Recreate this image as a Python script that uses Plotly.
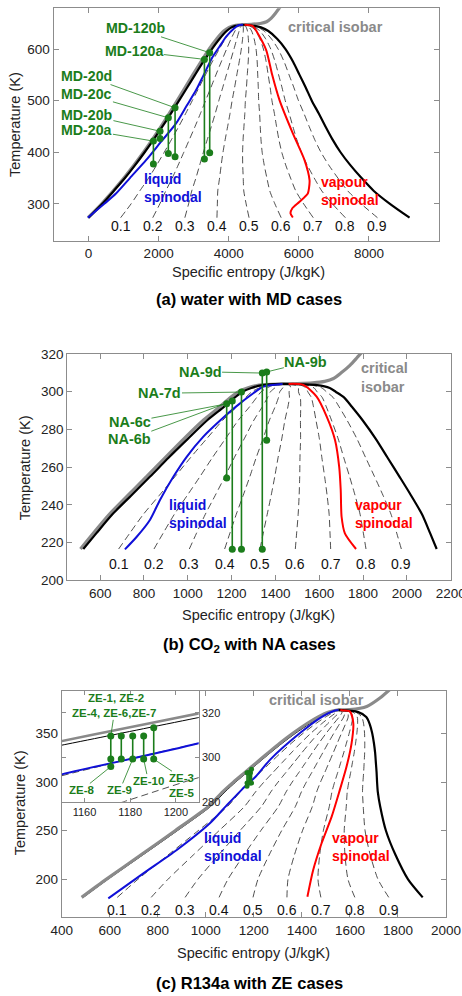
import plotly.graph_objects as go

# ---------------- data: water (panel a) ----------------
w_T  = [273.16, 300, 325, 350, 375, 400, 425, 450, 475, 500, 525, 550, 575, 600, 620, 635, 642, 645, 647.1]
w_sl = [0, 393, 719, 1038, 1328, 1601, 1860, 2109, 2348, 2581, 2810, 3038, 3271, 3519, 3740, 3940, 4080, 4190, 4407]
w_sv = [9160, 8600, 8140, 7790, 7470, 7190, 6960, 6760, 6570, 6370, 6200, 6020, 5840, 5620, 5380, 5130, 4920, 4740, 4407]
w_iso_T = [273.16, 300, 350, 400, 450, 500, 550, 600, 620, 635, 642, 646, 647.1, 648, 649.5, 653, 660, 670, 682]
w_iso_s = [-15, 375, 1010, 1570, 2070, 2530, 2975, 3440, 3660, 3860, 4010, 4200, 4407, 4650, 4900, 5080, 5215, 5340, 5470]
w_liq_T = [273.16, 300, 320, 350, 384.7, 420, 455.9, 490, 520.5, 550, 585, 610, 623.9, 640, 646.6, 647.1]
w_liq_s = [-20, 449, 783, 1180, 1640, 2064, 2497, 2799, 3069, 3286, 3543, 3788, 3926, 4150, 4300, 4407]
w_vap_T = [647.1, 644.6, 630, 598, 550, 501, 436.5, 384.8, 346, 330, 320, 303.9, 291, 281.4, 273.6]
w_vap_s = [4450, 4686, 4830, 5069, 5240, 5449, 5829, 6163, 6306, 6290, 6257, 6020, 5811, 5763, 5829]
md_names = ['MD-20a', 'MD-20b', 'MD-20c', 'MD-20d', 'MD-120a', 'MD-120b']
md_s     = [1851, 2040, 2277, 2469, 3306, 3457]
md_T_top = [421.6, 440.8, 466.8, 486.2, 580.0, 592.9]
md_T_bot = [377.0, 426.8, 397.7, 391.2, 386.7, 398.9]

# ---------------- data: CO2 (panel b) ----------------
c_T  = [216.6, 225, 235, 245, 255, 265, 275, 285, 292, 297, 300, 302, 303.5, 304.13]
c_sl = [523, 583, 656, 742, 828, 912, 1000, 1090, 1165, 1215, 1250, 1290, 1340, 1432]
c_sv = [2136, 2106, 2069, 2019, 1966, 1912, 1858, 1797, 1749, 1713, 1675, 1648, 1590, 1432]
c_iso_T = [216.6, 235, 255, 275, 285, 292, 297, 300, 302, 303.5, 304.13, 304.3, 304.7, 305.5, 307, 310, 314, 318, 321]
c_iso_s = [510, 642, 812, 982, 1072, 1146, 1196, 1232, 1272, 1325, 1432, 1500, 1570, 1625, 1665, 1700, 1740, 1772, 1795]
c_liq_T = [216.4, 223.1, 232, 242.6, 254.9, 265.5, 276.2, 285, 292.1, 299.2, 302.7, 304.13]
c_liq_s = [713, 767, 827, 873, 934, 995, 1071, 1150, 1220, 1299, 1345, 1432]
c_vap_T = [304.13, 303.6, 297.4, 286.8, 274.4, 260.2, 247.9, 233.7, 224.9, 216.6]
c_vap_s = [1460, 1527, 1588, 1634, 1672, 1691, 1698, 1702, 1717, 1768]
na_names = ['NA-6c', 'NA-6b', 'NA-7d', 'NA-9d', 'NA-9b']
na_s     = [1177.5, 1203, 1245, 1340, 1360]
na_T_top = [293.6, 295.1, 299.8, 309.9, 310.5]
na_T_bot = [254.3, 216.4, 216.4, 216.4, 274.2]

# ---------------- data: R134a (panel c) ----------------
r_T  = [181.5, 200, 225, 250, 275, 290, 300, 310, 320, 330, 340, 350, 360, 367, 372, 374.2]
r_sl = [490, 592, 737, 881, 1020, 1080, 1124, 1172, 1220, 1268, 1318, 1372, 1432, 1480, 1522, 1552]
r_sv = [1903, 1842, 1790, 1750, 1726, 1716, 1713, 1711, 1708, 1705, 1700, 1693, 1682, 1668, 1635, 1552]
r_iso_T = [181.5, 200, 225, 250, 275, 290, 300, 310, 320, 330, 340, 350, 360, 367, 372, 374.2, 374.5, 377.8, 386.5, 396]
r_iso_s = [483, 585, 729, 872, 1011, 1070, 1115, 1163, 1211, 1259, 1308, 1361, 1420, 1468, 1512, 1552, 1600, 1670, 1725, 1770]
r_liq_T = [180.4, 206.2, 230.2, 257.7, 275, 292.3, 306.3, 322.9, 350.4, 365.9, 373.7, 374.2]
r_liq_s = [594, 740, 879, 1017, 1083, 1150, 1210, 1267, 1392, 1475, 1538, 1552]
r_vap_T = [374.2, 373.7, 372.7, 360.7, 340.1, 316, 292, 264.5, 237.1, 209.6, 182.1]
r_vap_s = [1560, 1572, 1600, 1614, 1607, 1586, 1558, 1524, 1482, 1447, 1423]
ze_s    = [1171.5, 1176.1, 1181.1, 1185.9, 1190.3]
ze_T    = [[309.6, 299.2, 295.8], [309.6, 299.2], [309.6, 299.2], [309.6, 299.2], [313.3, 299.2]]

qualities = [0.1, 0.2, 0.3, 0.4, 0.5, 0.6, 0.7, 0.8, 0.9]
quality_text = ['0.1', '0.2', '0.3', '0.4', '0.5', '0.6', '0.7', '0.8', '0.9']

# ---------------- styles ----------------
FONT = "Arial, 'Liberation Sans', sans-serif"
GREEN = '#1b7d1b'
BLUE = '#1010d8'
RED = '#ff0000'
GRAY = '#8a8a8a'
FRAME = '#8c8c8c'
TXT = '#222222'
SMOOTH = 0.7

fig = go.Figure()


def quality_lines(T, sl, sv):
    xs, ys = [], []
    for q in qualities:
        for t, a, b in zip(T, sl, sv):
            xs.append(a + q * (b - a))
            ys.append(t)
        xs.append(None)
        ys.append(None)
    return xs, ys


def curve(xa, ya, x, y, color, width, dash=None):
    fig.add_trace(go.Scatter(x=x, y=y, mode='lines', xaxis=xa, yaxis=ya,
                             line=dict(color=color, width=width, dash=dash, shape='spline', smoothing=SMOOTH),
                             hoverinfo='skip', showlegend=False))


def add_panel(xa, ya, T, sl, sv, iso_s, iso_T, liq_s, liq_T, vap_s, vap_T,
              sl_width=2.2, iso_width=3.2, spin_width=2.0, sl_under=False):
    qx, qy = quality_lines(T, sl, sv)
    curve(xa, ya, qx, qy, '#222222', 0.8, dash='7px,4px')
    if sl_under:
        curve(xa, ya, sl, T, 'black', sl_width)
    curve(xa, ya, iso_s, iso_T, GRAY, iso_width)
    if not sl_under:
        curve(xa, ya, sl, T, 'black', sl_width)
    curve(xa, ya, sv, T, 'black', 2.2)
    curve(xa, ya, liq_s, liq_T, BLUE, spin_width)
    curve(xa, ya, vap_s, vap_T, RED, spin_width)


def add_case(xa, ya, s, Ts, msize=7):
    fig.add_trace(go.Scatter(x=[s] * len(Ts), y=Ts, mode='lines+markers', xaxis=xa, yaxis=ya,
                             line=dict(color=GREEN, width=1.6),
                             marker=dict(color=GREEN, size=msize), showlegend=False))


# panel a
add_panel('x', 'y', w_T, w_sl, w_sv, w_iso_s, w_iso_T, w_liq_s, w_liq_T, w_vap_s, w_vap_T)
for s, t1, t2 in zip(md_s, md_T_top, md_T_bot):
    add_case('x', 'y', s, [t1, t2])
# panel b
add_panel('x2', 'y2', c_T, c_sl, c_sv, c_iso_s, c_iso_T, c_liq_s, c_liq_T, c_vap_s, c_vap_T)
for s, t1, t2 in zip(na_s, na_T_top, na_T_bot):
    add_case('x2', 'y2', s, [t1, t2])
# panel c
add_panel('x3', 'y3', r_T, r_sl, r_sv, r_iso_s, r_iso_T, r_liq_s, r_liq_T, r_vap_s, r_vap_T,
          sl_width=1.0, sl_under=True)
for s, Ts in zip(ze_s, ze_T):
    add_case('x3', 'y3', s, Ts, msize=5)
# inset
add_panel('x4', 'y4', r_T, r_sl, r_sv, r_iso_s, r_iso_T, r_liq_s, r_liq_T, r_vap_s, r_vap_T,
          sl_width=1.0, iso_width=2.6, spin_width=2.0, sl_under=True)
for s, Ts in zip(ze_s, ze_T):
    add_case('x4', 'y4', s, Ts, msize=7)

# ---------------- axes ----------------
W, H = 462, 996


def dom_x(a, b):
    return [a / W, b / W]


def dom_y(top, bot):
    return [1 - bot / H, 1 - top / H]


axis_common = dict(showline=True, linecolor=FRAME, linewidth=1, mirror='ticks', ticks='inside',
                   ticklen=5, tickcolor=FRAME, showgrid=False, zeroline=False,
                   ticklabeloverflow='allow',
                   tickfont=dict(family=FONT, size=13.5, color=TXT))

fig.update_layout(
    xaxis=dict(domain=dom_x(53.5, 439), range=[-1000, 10000], tickvals=[0, 2000, 4000, 6000, 8000], anchor='y', **axis_common),
    yaxis=dict(domain=dom_y(8.3, 241), range=[228, 679], tickvals=[300, 400, 500, 600], anchor='x', **axis_common),
    xaxis2=dict(domain=dom_x(67.3, 450.7), range=[450, 2200], dtick=200, anchor='y2', **axis_common),
    yaxis2=dict(domain=dom_y(354, 580.3), range=[200, 320], dtick=20, anchor='x2', **axis_common),
    xaxis3=dict(domain=dom_x(61.7, 446), range=[400, 2000], dtick=200, anchor='y3', **axis_common),
    yaxis3=dict(domain=dom_y(690.7, 917.3), range=[161, 394], tickvals=[200, 250, 300, 350], anchor='x3', **axis_common),
)
inset_common = dict(axis_common)
inset_common['tickfont'] = dict(family=FONT, size=11, color=TXT)
inset_common['ticklen'] = 4
fig.update_layout(
    xaxis4=dict(domain=dom_x(61.7, 198.7), range=[1150, 1210], tickvals=[1160, 1180, 1200], anchor='y4', **inset_common),
    yaxis4=dict(domain=dom_y(690.7, 801.7), range=[280, 330], tickvals=[280, 300, 320], side='right', anchor='x4', **inset_common),
)

# ---------------- annotations ----------------
ann = []


def label(x, y, text, xref, yref, color, size=14.5, bold=True, xanchor='center', align='center', angle=0):
    ann.append(dict(x=x, y=y, xref=xref, yref=yref, text=('<b>%s</b>' % text) if bold else text,
                    showarrow=False, xanchor=xanchor, yanchor='middle', align=align, textangle=angle,
                    font=dict(family=FONT, size=size, color=color)))


def leader(x, y, ax, ay, text, xref, yref, size=14.5):
    ann.append(dict(x=x, y=y, ax=ax, ay=ay, xref=xref, yref=yref, axref=xref, ayref=yref,
                    text='<b>%s</b>' % text, showarrow=True, arrowhead=0, arrowwidth=0.8,
                    arrowcolor=GREEN, standoff=3, borderpad=0,
                    font=dict(family=FONT, size=size, color=GREEN)))


# quality labels
for q, qt in zip(qualities, quality_text):
    label(w_sl[0] + q * (w_sv[0] - w_sl[0]), 257.3, qt, 'x', 'y', '#111111', size=14, bold=False)
    label(c_sl[0] + q * (c_sv[0] - c_sl[0]), 208.6, qt, 'x2', 'y2', '#111111', size=14, bold=False)
    label(r_sl[0] + q * (r_sv[0] - r_sl[0]), 169.0, qt, 'x3', 'y3', '#111111', size=14, bold=False)

# panel a labels
md_label_pos = [(-46, 443.5), (-46, 473.0), (-46, 512.2), (-46, 547.7), (1306, 596.2), (1326, 640.2)]
for name, s, t, (lx, ly) in zip(md_names, md_s, md_T_top, md_label_pos):
    leader(s, t, lx, ly, name, 'x', 'y', size=14.2)
label(1526, 330.8, 'liquid<br>spinodal', 'x', 'y', BLUE, size=14, xanchor='left', align='left')
label(6563, 324.0, 'vapour<br>spinodal', 'x', 'y', RED, size=14, xanchor='left', align='left')
label(5640, 643.3, 'critical isobar', 'x', 'y', GRAY, size=14.5, xanchor='left', align='left')

# panel b labels
na_label_pos = [(736, 283.8), (733, 274.7), (873, 299.2), (1056, 310.6), (1539, 315.6)]
for name, s, t, (lx, ly) in zip(na_names, na_s, na_T_top, na_label_pos):
    leader(s, t, lx, ly, name, 'x2', 'y2')
label(904, 235.3, 'liquid<br>spinodal', 'x2', 'y2', BLUE, size=14, xanchor='left', align='left')
label(1752, 235.3, 'vapour<br>spinodal', 'x2', 'y2', RED, size=14, xanchor='left', align='left')
label(1781, 307.5, 'critical<br>isobar', 'x2', 'y2', GRAY, size=14.5, xanchor='left', align='left')

# panel c labels
label(983, 232.8, 'liquid<br>spinodal', 'x3', 'y3', BLUE, size=14, xanchor='left', align='left')
label(1517, 232.8, 'vapour<br>spinodal', 'x3', 'y3', RED, size=14, xanchor='left', align='left')
label(1462, 384.7, 'critical isobar', 'x3', 'y3', GRAY, size=14.5)

# inset labels
label(1173.7, 326.6, 'ZE-1, ZE-2', 'x4', 'y4', GREEN, size=11.5)
leader(ze_s[0], ze_T[0][0], 1173.0, 319.8, 'ZE-4, ZE-6,ZE-7', 'x4', 'y4', size=11.5)
leader(ze_s[0], ze_T[0][2], 1158.8, 285.3, 'ZE-8', 'x4', 'y4', size=11.5)
leader(ze_s[2], ze_T[2][1], 1175.5, 285.3, 'ZE-9', 'x4', 'y4', size=11.5)
leader(ze_s[3], ze_T[3][1], 1187.9, 289.5, 'ZE-10', 'x4', 'y4', size=11.5)
leader(ze_s[4], ze_T[4][1], 1202.6, 290.8, 'ZE-3', 'x4', 'y4', size=11.5)
label(1202.6, 283.8, 'ZE-5', 'x4', 'y4', GREEN, size=11.5)

# axis titles and panel titles (paper coordinates)
for (px, py, txt, ang) in [(248, 272, 'Specific entropy (J/kgK)', 0), (15, 125, 'Temperature (K)', -90),
                           (258.3, 615, 'Specific entropy (J/kgK)', 0), (25, 468.3, 'Temperature (K)', -90),
                           (253.3, 952.7, 'Specific entropy (J/kgK)', 0), (20, 803.3, 'Temperature (K)', -90)]:
    label(px / W, 1 - py / H, txt, 'paper', 'paper', TXT, size=14.5, bold=False, angle=ang)
for (px, py, txt) in [(249, 299, '(a) water with MD cases'), (249.5, 645, '(b) CO<sub>2</sub> with NA cases'),
                      (249, 983.3, '(c) R134a with ZE cases')]:
    label(px / W, 1 - py / H, txt, 'paper', 'paper', '#000000', size=16.5, bold=True)

fig.update_layout(annotations=ann, template='none', width=W, height=H,
                  margin=dict(l=0, r=0, t=0, b=0), plot_bgcolor='white', paper_bgcolor='white',
                  showlegend=False)

fig.write_html('out.html', config={'displayModeBar': False})
